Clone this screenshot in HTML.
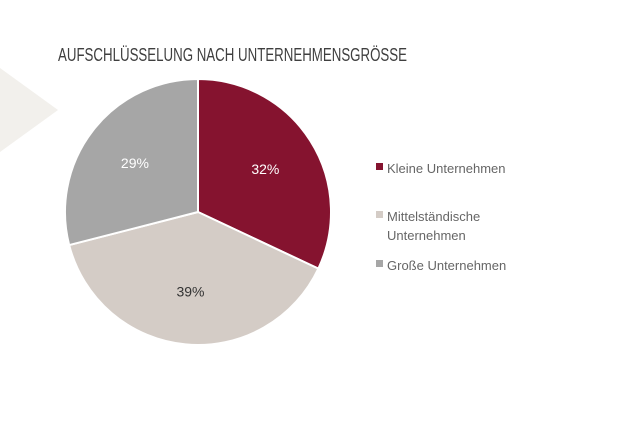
<!DOCTYPE html>
<html><head><meta charset="utf-8"><style>
body{margin:0;background:#fff;width:622px;height:444px;overflow:hidden}
svg{display:block;font-family:"Liberation Sans",sans-serif}
</style></head><body>
<svg width="622" height="444">
<polygon points="0,68 58,110 0,152" fill="#f2f0ec"/>
<text x="58" y="61" font-size="18" fill="#3f3f3f" textLength="349" lengthAdjust="spacingAndGlyphs">AUFSCHLÜSSELUNG NACH UNTERNEHMENSGRÖSSE</text>
<g id="slices"></g>
<g id="legend"></g>
</svg>
<script>
const categories=["Kleine Unternehmen","Mittelständische Unternehmen","Große Unternehmen"];
const values=[32,39,29];
const labels=["32%","39%","29%"];
const colors=["#85132f","#d4ccc6","#a6a6a6"];
const labelColors=["#fff","#333","#fff"];
const ns="http://www.w3.org/2000/svg";
const cx=198,cy=212,r=133;
const total=values.reduce((a,b)=>a+b,0);
const g=document.getElementById('slices');
let a0=0;
function pt(a,rr){return [cx+rr*Math.sin(a),cy-rr*Math.cos(a)];}
values.forEach((v,i)=>{
  const a1=a0+v/total*2*Math.PI;
  const p0=pt(a0,r),p1=pt(a1,r);
  const p=document.createElementNS(ns,'path');
  p.setAttribute('d',`M${cx},${cy}L${p0[0]},${p0[1]}A${r},${r} 0 ${a1-a0>Math.PI?1:0} 1 ${p1[0]},${p1[1]}Z`);
  p.setAttribute('fill',colors[i]);p.setAttribute('stroke','#fff');p.setAttribute('stroke-width','2');
  
  
  g.appendChild(p);
  const m=(a0+a1)/2,lp=pt(m,r*0.6);
  const t=document.createElementNS(ns,'text');
  t.setAttribute('x',lp[0]);t.setAttribute('y',lp[1]+5);t.setAttribute('text-anchor','middle');
  t.setAttribute('font-size','14');t.setAttribute('fill',labelColors[i]);t.textContent=labels[i];
  
  
  g.appendChild(t);
  a0=a1;
});
const lg=document.getElementById('legend');
const ly=[[168],[216,235],[265]];
const lines=[["Kleine Unternehmen"],["Mittelständische","Unternehmen"],["Große Unternehmen"]];
categories.forEach((c,i)=>{
  const s=document.createElementNS(ns,'rect');
  s.setAttribute('x',376);s.setAttribute('y',ly[i][0]-5);s.setAttribute('width',7);s.setAttribute('height',7);s.setAttribute('fill',colors[i]);
  
  
  lg.appendChild(s);
  lines[i].forEach((ln,j)=>{
    const t=document.createElementNS(ns,'text');
    t.setAttribute('x',387);t.setAttribute('y',ly[i][j]+5);t.setAttribute('font-size','13');t.setAttribute('fill','#666');
    t.textContent=ln;
    
    
    lg.appendChild(t);
  });
});
</script>
</body></html>
